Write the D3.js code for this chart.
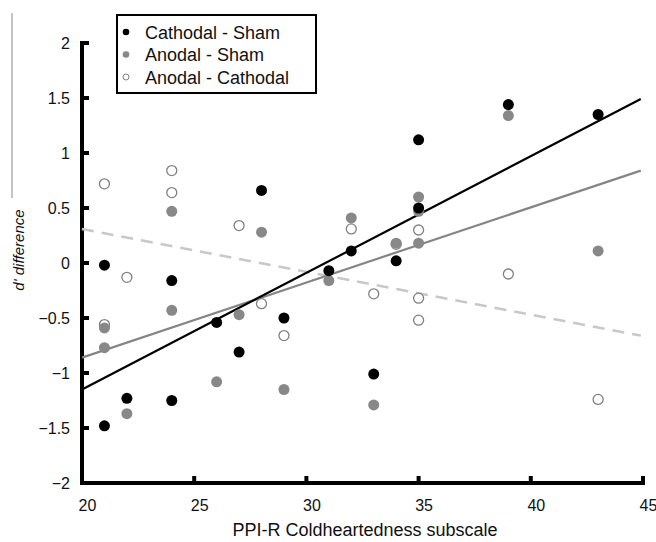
<!DOCTYPE html>
<html>
<head>
<meta charset="utf-8">
<script src="https://cdn.jsdelivr.net/npm/d3@7"></script>
<style>
  body { margin: 0; background: #fff; }
  svg { font-family: "Liberation Sans", Arial, sans-serif; }
</style>
</head>
<body>
<svg id="root" width="656" height="542"></svg>
<script>
//Chart values
const seriesNames = ["Cathodal - Sham", "Anodal - Sham", "Anodal - Cathodal"];

const cathodalShamX = [21, 21, 22, 24, 24, 26, 27, 28, 29, 31, 32, 33, 34, 35, 35, 39, 43];
const cathodalShamY = [-0.02, -1.48, -1.23, -0.16, -1.25, -0.54, -0.81, 0.66, -0.50, -0.07, 0.11, -1.01, 0.02, 1.12, 0.50, 1.44, 1.35];

const anodalShamX = [21, 21, 22, 24, 24, 26, 27, 28, 29, 31, 32, 33, 34, 35, 35, 35, 39, 43];
const anodalShamY = [-0.59, -0.77, -1.37, 0.47, -0.43, -1.08, -0.47, 0.28, -1.15, -0.16, 0.41, -1.29, 0.18, 0.60, 0.47, 0.18, 1.34, 0.11];

const anodalCathodalX = [21, 21, 22, 24, 24, 27, 28, 29, 32, 33, 34, 35, 35, 35, 39, 43];
const anodalCathodalY = [0.72, -0.56, -0.13, 0.84, 0.64, 0.34, -0.37, -0.66, 0.31, -0.28, 0.17, 0.30, -0.32, -0.52, -0.10, -1.24];

//Linear fit lines: [x start, x end] and [y start, y end]
const fitX = [20, 44.9];
const cathodalShamFit = [-1.15, 1.49];
const anodalShamFit = [-0.86, 0.84];
const anodalCathodalFit = [0.31, -0.66];

const xTicks = [20, 25, 30, 35, 40, 45];
const yTicks = [-2, -1.5, -1, -0.5, 0, 0.5, 1, 1.5, 2];

const svg = d3.select("#root");

//Scales
const x = d3.scaleLinear().domain([20, 45]).range([82, 643]);
const y = d3.scaleLinear().domain([-2, 2]).range([483, 43]);

//Stray thin line at the left edge of the original image
svg.append("line")
    .attr("x1", 12).attr("x2", 12)
    .attr("y1", 13).attr("y2", 198)
    .attr("stroke", "#888").attr("stroke-width", 1);

//Axes: d3 axes give the labels, heavy lines drawn separately
svg.append("g")
    .attr("transform", `translate(0, ${y(-2)})`)
    .call(d3.axisBottom(x).tickValues(xTicks).tickSize(0).tickPadding(17))
    .call(g => g.select(".domain").remove())
    .selectAll("text")
    .attr("dx", 5)
    .style("font-size", "16px").style("fill", "#111");

svg.append("g")
    .attr("transform", `translate(${x(20)}, 0)`)
    .call(d3.axisLeft(y).tickValues(yTicks).tickSize(0).tickPadding(12)
        .tickFormat(d => d3.format("")(d)))
    .call(g => g.select(".domain").remove())
    .selectAll("text")
    .style("font-size", "16px").style("fill", "#111");

const axisLines = svg.append("g")
    .attr("stroke", "#000")
    .attr("stroke-width", 4)
    .attr("stroke-linecap", "square");

axisLines.append("line")
    .attr("x1", x(20)).attr("x2", x(45))
    .attr("y1", y(-2)).attr("y2", y(-2));
axisLines.append("line")
    .attr("x1", x(20)).attr("x2", x(20))
    .attr("y1", y(-2)).attr("y2", y(2));

axisLines.selectAll(".xtick")
    .data(xTicks)
    .enter()
    .append("line")
    .attr("class", "xtick")
    .attr("x1", d => x(d)).attr("x2", d => x(d))
    .attr("y1", y(-2)).attr("y2", y(-2) - 5);

axisLines.selectAll(".ytick")
    .data(yTicks)
    .enter()
    .append("line")
    .attr("class", "ytick")
    .attr("x1", x(20)).attr("x2", x(20) + 5)
    .attr("y1", d => y(d)).attr("y2", d => y(d));

//Axis titles
svg.append("text")
    .attr("x", 365).attr("y", 536)
    .attr("text-anchor", "middle")
    .style("font-size", "18px").style("fill", "#111")
    .text("PPI-R Coldheartedness subscale");

svg.append("text")
    .attr("transform", "translate(24, 250) rotate(-90)")
    .attr("text-anchor", "middle")
    .style("font-size", "15px").style("font-style", "italic").style("fill", "#111")
    .text("d' difference");

//Fit lines
const fitLine = d3.line().x(d => x(d[0])).y(d => y(d[1]));

svg.append("path")
    .datum(d3.zip(fitX, anodalCathodalFit))
    .attr("d", fitLine)
    .attr("fill", "none").attr("stroke", "#c8c8c8")
    .attr("stroke-width", 2.5).attr("stroke-dasharray", "12,8");

svg.append("path")
    .datum(d3.zip(fitX, anodalShamFit))
    .attr("d", fitLine)
    .attr("fill", "none").attr("stroke", "#858585").attr("stroke-width", 2.2);

svg.append("path")
    .datum(d3.zip(fitX, cathodalShamFit))
    .attr("d", fitLine)
    .attr("fill", "none").attr("stroke", "#000").attr("stroke-width", 2.2);

//Points
function drawPoints(xs, ys, fill, stroke) {
    svg.append("g")
        .selectAll("circle")
        .data(d3.zip(xs, ys))
        .enter()
        .append("circle")
        .attr("cx", d => x(d[0]))
        .attr("cy", d => y(d[1]))
        .attr("r", stroke ? 5 : 5.5)
        .attr("fill", fill)
        .attr("stroke", stroke || "none")
        .attr("stroke-width", 1.3);
}
drawPoints(anodalCathodalX, anodalCathodalY, "#fff", "#808080");
drawPoints(anodalShamX, anodalShamY, "#888");
drawPoints(cathodalShamX, cathodalShamY, "#000");

//Legend
const legend = svg.append("g").attr("transform", "translate(117, 15)");
legend.append("rect")
    .attr("width", 199).attr("height", 78)
    .attr("fill", "#fff").attr("stroke", "#000").attr("stroke-width", 2);

const legendStyle = [
    { fill: "#000", stroke: "none" },
    { fill: "#888", stroke: "none" },
    { fill: "#fff", stroke: "#808080" }
];

const rows = legend.selectAll(".legend-row")
    .data(seriesNames)
    .enter()
    .append("g")
    .attr("class", "legend-row")
    .attr("transform", (d, i) => `translate(0, ${17 + i * 22.5})`);

rows.append("circle")
    .attr("cx", 9).attr("cy", 0)
    .attr("r", (d, i) => i === 2 ? 3 : 3.3)
    .attr("fill", (d, i) => legendStyle[i].fill)
    .attr("stroke", (d, i) => legendStyle[i].stroke)
    .attr("stroke-width", 1);

rows.append("text")
    .attr("x", 28).attr("y", 6.5)
    .style("font-size", "18px").style("fill", "#111")
    .text(d => d);
</script>
</body>
</html>
